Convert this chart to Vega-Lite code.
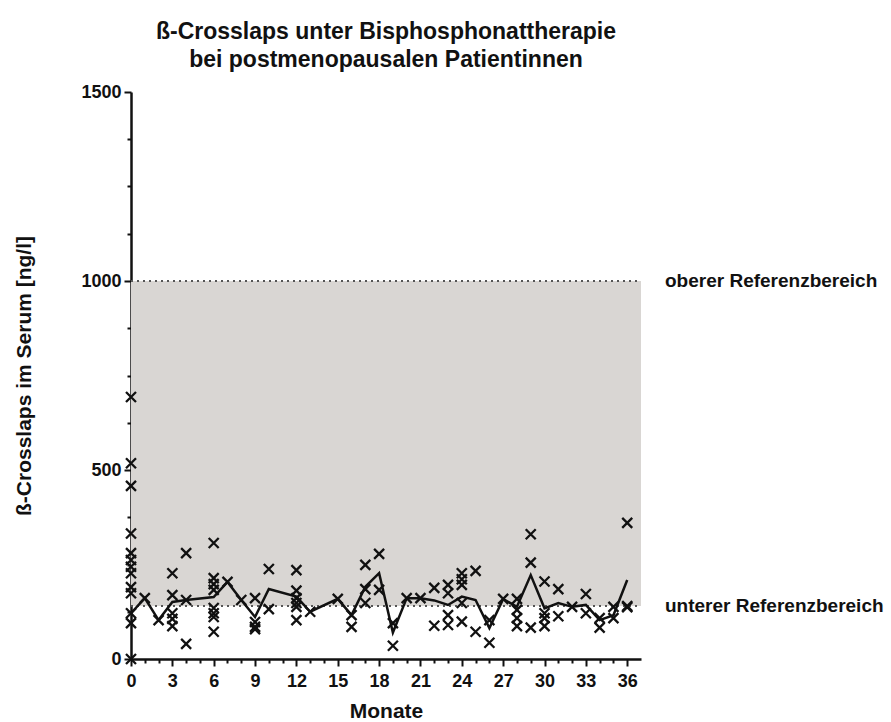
{
  "$schema": "https://vega.github.io/schema/vega-lite/v6.json",
  "autosize": "none",
  "width": 510,
  "height": 567,
  "padding": {"left": 131, "top": 92, "right": 250, "bottom": 63},
  "background": "white",
  "config": {
    "view": {"stroke": null},
    "font": "Liberation Sans",
    "axis": {
      "grid": false,
      "domainColor": "#111",
      "domainWidth": 2.5,
      "tickColor": "#111",
      "tickWidth": 2,
      "labelFont": "Liberation Sans",
      "labelFontWeight": "bold",
      "labelFontSize": 18,
      "labelColor": "#111",
      "titleFont": "Liberation Sans",
      "titleFontWeight": "bold",
      "titleFontSize": 21,
      "titleColor": "#111"
    }
  },
  "title": {
    "text": ["ß-Crosslaps unter Bisphosphonattherapie", "bei postmenopausalen Patientinnen"],
    "font": "Liberation Sans",
    "fontSize": 23,
    "fontWeight": "bold",
    "color": "#111",
    "anchor": "middle",
    "frame": "group",
    "lineHeight": 28,
    "offset": 11
  },
  "datasets": {
    "band": [{"month": 0, "month2": 37, "value": 140, "value2": 1000}],
    "refs": [
      {"month": 0, "month2": 37, "value": 1000},
      {"month": 0, "month2": 37, "value": 140}
    ],
    "labels": [
      {"month": 37, "value": 1000, "label": "oberer Referenzbereich"},
      {"month": 37, "value": 140, "label": "unterer Referenzbereich"}
    ],
    "line": [
      {"month": 0, "value": 121}, {"month": 1, "value": 161}, {"month": 2, "value": 103},
      {"month": 3, "value": 151}, {"month": 4, "value": 156}, {"month": 6, "value": 164},
      {"month": 7, "value": 204}, {"month": 8, "value": 156}, {"month": 9, "value": 111},
      {"month": 10, "value": 185}, {"month": 12, "value": 165}, {"month": 13, "value": 125},
      {"month": 15, "value": 159}, {"month": 16, "value": 116}, {"month": 17, "value": 191},
      {"month": 18, "value": 227}, {"month": 19, "value": 70}, {"month": 20, "value": 161},
      {"month": 21, "value": 161}, {"month": 22, "value": 155}, {"month": 23, "value": 143},
      {"month": 24, "value": 165}, {"month": 25, "value": 156}, {"month": 26, "value": 82},
      {"month": 27, "value": 159}, {"month": 28, "value": 138}, {"month": 29, "value": 222},
      {"month": 30, "value": 134}, {"month": 31, "value": 148}, {"month": 32, "value": 138},
      {"month": 33, "value": 143}, {"month": 34, "value": 103}, {"month": 35, "value": 116},
      {"month": 36, "value": 209}
    ],
    "points": [
      {"month": 0, "value": 693}, {"month": 0, "value": 518}, {"month": 0, "value": 458},
      {"month": 0, "value": 332}, {"month": 0, "value": 280}, {"month": 0, "value": 262},
      {"month": 0, "value": 244}, {"month": 0, "value": 227}, {"month": 0, "value": 190},
      {"month": 0, "value": 174}, {"month": 0, "value": 121}, {"month": 0, "value": 95},
      {"month": 0, "value": 0},
      {"month": 1, "value": 161},
      {"month": 2, "value": 103},
      {"month": 3, "value": 227}, {"month": 3, "value": 169}, {"month": 3, "value": 121},
      {"month": 3, "value": 106}, {"month": 3, "value": 87},
      {"month": 4, "value": 280}, {"month": 4, "value": 156}, {"month": 4, "value": 40},
      {"month": 6, "value": 307}, {"month": 6, "value": 214}, {"month": 6, "value": 198},
      {"month": 6, "value": 183}, {"month": 6, "value": 135}, {"month": 6, "value": 121},
      {"month": 6, "value": 111}, {"month": 6, "value": 72},
      {"month": 7, "value": 204},
      {"month": 8, "value": 156},
      {"month": 9, "value": 161}, {"month": 9, "value": 98}, {"month": 9, "value": 85},
      {"month": 9, "value": 79},
      {"month": 10, "value": 238}, {"month": 10, "value": 132},
      {"month": 12, "value": 235}, {"month": 12, "value": 181}, {"month": 12, "value": 161},
      {"month": 12, "value": 148}, {"month": 12, "value": 138}, {"month": 12, "value": 103},
      {"month": 13, "value": 125},
      {"month": 15, "value": 159},
      {"month": 16, "value": 116}, {"month": 16, "value": 85},
      {"month": 17, "value": 249}, {"month": 17, "value": 185}, {"month": 17, "value": 148},
      {"month": 18, "value": 278}, {"month": 18, "value": 183},
      {"month": 19, "value": 95}, {"month": 19, "value": 35},
      {"month": 20, "value": 161},
      {"month": 21, "value": 161},
      {"month": 22, "value": 188}, {"month": 22, "value": 88},
      {"month": 23, "value": 196}, {"month": 23, "value": 174}, {"month": 23, "value": 116},
      {"month": 23, "value": 90},
      {"month": 24, "value": 227}, {"month": 24, "value": 211}, {"month": 24, "value": 196},
      {"month": 24, "value": 148}, {"month": 24, "value": 99},
      {"month": 25, "value": 233}, {"month": 25, "value": 72},
      {"month": 26, "value": 103}, {"month": 26, "value": 43},
      {"month": 27, "value": 159},
      {"month": 28, "value": 159}, {"month": 28, "value": 130}, {"month": 28, "value": 108},
      {"month": 28, "value": 87},
      {"month": 29, "value": 330}, {"month": 29, "value": 255}, {"month": 29, "value": 83},
      {"month": 30, "value": 205}, {"month": 30, "value": 121}, {"month": 30, "value": 108},
      {"month": 30, "value": 87},
      {"month": 31, "value": 185}, {"month": 31, "value": 113},
      {"month": 32, "value": 138},
      {"month": 33, "value": 172}, {"month": 33, "value": 121},
      {"month": 34, "value": 108}, {"month": 34, "value": 83},
      {"month": 35, "value": 138}, {"month": 35, "value": 108},
      {"month": 36, "value": 360}, {"month": 36, "value": 140}, {"month": 36, "value": 137}
    ]
  },
  "encoding": {
    "x": {
      "field": "month",
      "type": "quantitative",
      "scale": {"domain": [0, 37], "nice": false, "zero": false},
      "axis": {
        "title": "Monate",
        "values": [0,1,2,3,4,5,6,7,8,9,10,11,12,13,14,15,16,17,18,19,20,21,22,23,24,25,26,27,28,29,30,31,32,33,34,35,36],
        "labelExpr": "datum.value % 3 === 0 ? datum.label : ''",
        "tickSize": {"condition": {"test": "datum.value % 3 === 0", "value": 7}, "value": 4},
        "labelPadding": 6,
        "titlePadding": 10,
        "labelFlush": false,
        "labelOverlap": false
      }
    },
    "y": {
      "field": "value",
      "type": "quantitative",
      "scale": {"domain": [0, 1500], "nice": false},
      "axis": {
        "title": "ß-Crosslaps im Serum [ng/l]",
        "values": [0,125,250,375,500,625,750,875,1000,1125,1250,1375,1500],
        "format": "d",
        "labelExpr": "datum.value % 500 === 0 ? datum.label : ''",
        "tickSize": {"condition": {"test": "datum.value % 500 === 0", "value": 7}, "value": 4},
        "labelPadding": 3,
        "titlePadding": 46,
        "labelFlush": false,
        "labelOverlap": false
      }
    }
  },
  "layer": [
    {
      "data": {"name": "band"},
      "mark": {"type": "rect", "color": "#d9d6d3"},
      "encoding": {
        "x2": {"field": "month2"},
        "y2": {"field": "value2"}
      }
    },
    {
      "data": {"name": "refs"},
      "mark": {"type": "rule", "color": "#555", "strokeWidth": 2, "strokeDash": [2, 4]},
      "encoding": {
        "x2": {"field": "month2"}
      }
    },
    {
      "data": {"name": "labels"},
      "mark": {"type": "text", "align": "left", "baseline": "middle", "dx": 24, "font": "Liberation Sans", "fontWeight": "bold", "fontSize": 19, "color": "#111", "clip": false},
      "encoding": {
        "text": {"field": "label"}
      }
    },
    {
      "data": {"name": "line"},
      "mark": {"type": "line", "color": "#111", "strokeWidth": 2.5},
      "encoding": {}
    },
    {
      "data": {"name": "points"},
      "mark": {"type": "point", "shape": "M-1,-1L1,1M-1,1L1,-1", "size": 100, "filled": false, "stroke": "#111", "strokeWidth": 2.3, "opacity": 1},
      "encoding": {}
    }
  ]
}
